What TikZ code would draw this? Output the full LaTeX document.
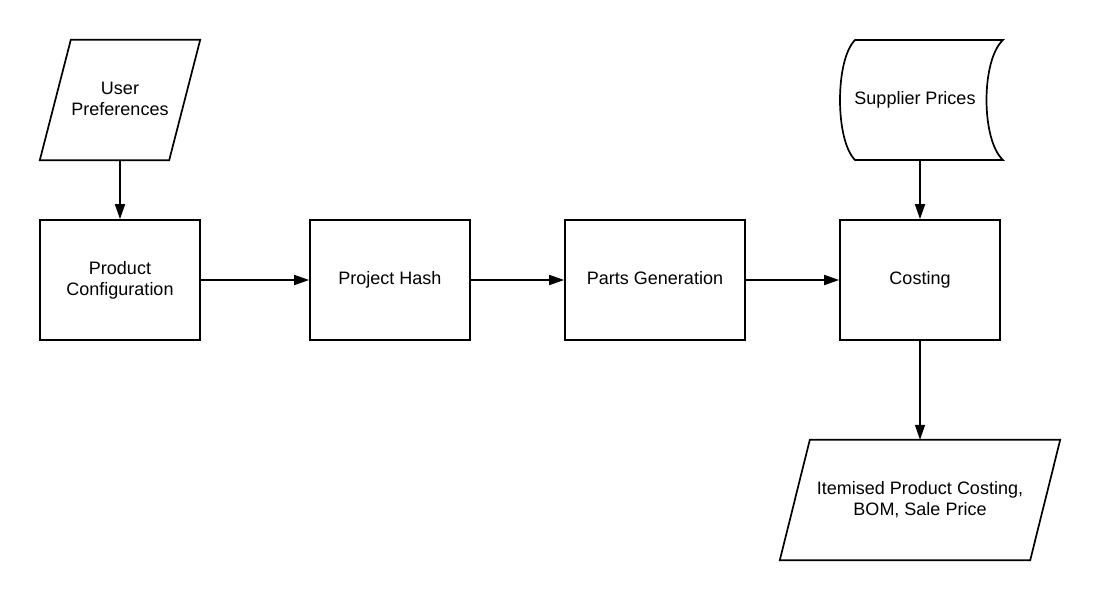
\documentclass[tikz,border=0pt]{standalone}
\usepackage{fontspec}
\setmainfont{Liberation Sans}
\usetikzlibrary{arrows.meta,calc}
\begin{document}
\begin{tikzpicture}[x=1pt,y=-1pt,
  lw/.style={line width=1.7pt},
  box/.style={draw,lw,minimum width=160pt,minimum height=120pt,inner sep=0pt,align=center,
    font=\fontsize{18}{21}\selectfont},
  shapebox/.style={minimum width=160pt,minimum height=120pt,inner sep=0pt,align=center,
    font=\fontsize{18}{21}\selectfont},
  conn/.style={lw,-{Triangle[length=15pt,width=10pt]}}
]
\useasboundingbox[fill=white] (0,0) rectangle (1100,600);

% nodes
\node[shapebox] (up) at (120,100) {User\\Preferences\rule[-2pt]{0pt}{0pt}};
\node[box] (pc) at (120,280) {Product\\Configuration};
\node[box] (ph) at (390,280) {Project Hash};
\node[box,minimum width=180pt] (pg) at (655,280) {\strut Parts Generation};
\node[box] (co) at (920,280) {Costing};
\node[shapebox] (sp) at (920,100) {\hspace*{-10pt}Supplier Prices};
\node[shapebox,minimum width=250pt] (out) at (920,500) {Itemised Product Costing,\\BOM, Sale Price};

% parallelograms
\draw[lw,line join=miter] ($(up.north west)+(31,0)$) -- (up.north east) -- ($(up.south east)+(-31,0)$) -- (up.south west) -- cycle;
\draw[lw,line join=miter] ($(out.north west)+(15,0)$) -- ($(out.north east)+(15,0)$) -- ($(out.south east)+(-15,0)$) -- ($(out.south west)+(-15,0)$) -- cycle;

% stored data shape
\draw[lw,shift={(sp.center)}] (-65,-60) -- (83,-60)
  .. controls (61,-40) and (61,40) .. (83,60) -- (-65,60)
  .. controls (-85,40) and (-85,-40) .. (-65,-60) -- cycle;

% connectors
\draw[conn] (up.south) -- (pc.north);
\draw[conn] (pc.east) -- (ph.west);
\draw[conn] (ph.east) -- (pg.west);
\draw[conn] (pg.east) -- (co.west);
\draw[conn] (sp.south) -- (co.north);
\draw[conn] (co.south) -- (out.north);
\end{tikzpicture}
\end{document}
